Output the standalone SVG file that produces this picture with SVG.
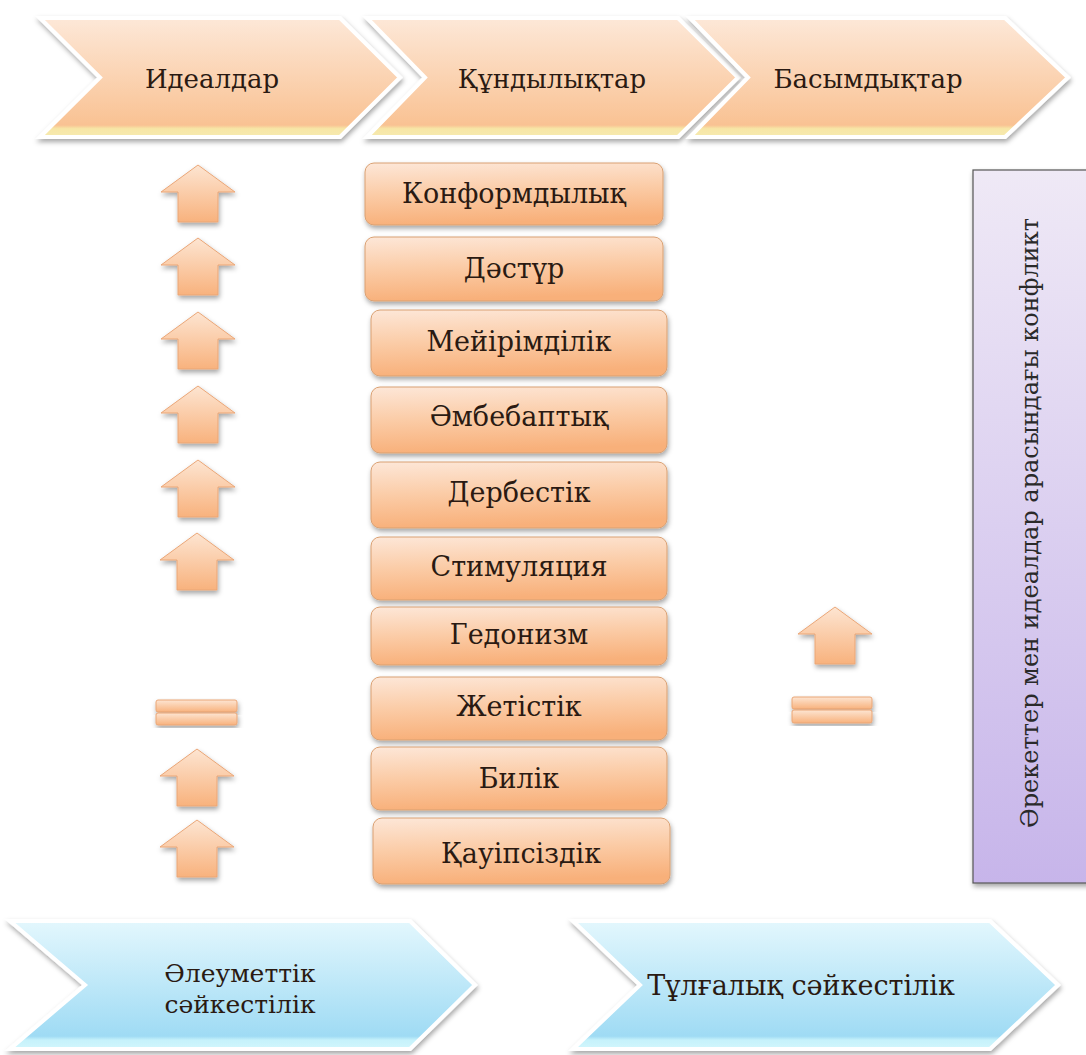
<svg xmlns="http://www.w3.org/2000/svg" xmlns:xlink="http://www.w3.org/1999/xlink" width="1086" height="1055" viewBox="0 0 1086 1055">
<defs>
<linearGradient id="gPeach" x1="0" y1="0" x2="0" y2="1">
<stop offset="0" stop-color="#fde8d8"/>
<stop offset="0.9" stop-color="#f9c293"/>
<stop offset="0.93" stop-color="#f7e6a6"/>
<stop offset="1" stop-color="#f6eab0"/>
</linearGradient>
<linearGradient id="gBlue" x1="0" y1="0" x2="0" y2="1">
<stop offset="0" stop-color="#e3f7fd"/>
<stop offset="0.9" stop-color="#9fdbf4"/>
<stop offset="0.93" stop-color="#c6f2fb"/>
<stop offset="1" stop-color="#d2f6fc"/>
</linearGradient>
<linearGradient id="gBox" x1="0" y1="0" x2="0.15" y2="1">
<stop offset="0" stop-color="#fde7d8"/>
<stop offset="0.5" stop-color="#fbcca7"/>
<stop offset="1" stop-color="#f8b07a"/>
</linearGradient>
<linearGradient id="gArrow" x1="0" y1="0" x2="0" y2="1">
<stop offset="0" stop-color="#fde5d2"/>
<stop offset="1" stop-color="#f8b27d"/>
</linearGradient>
<linearGradient id="gPurple" x1="0" y1="0" x2="0" y2="1">
<stop offset="0" stop-color="#efe9f6"/>
<stop offset="1" stop-color="#c7b5ea"/>
</linearGradient>
<filter id="sh" x="-10%" y="-10%" width="125%" height="130%">
<feDropShadow dx="1" dy="3" stdDeviation="2.5" flood-color="#000" flood-opacity="0.35"/>
</filter>
<path id="up" d="M0,0 L37,27 L20,27 L20,57 L-20,57 L-20,27 L-37,27 Z"/>
</defs>
<style>
.chev{fill:url(#gPeach);stroke:#fff;stroke-width:4;stroke-linejoin:miter;filter:url(#sh)}
.chevb{fill:url(#gBlue);stroke:#fff;stroke-width:4;stroke-linejoin:miter;filter:url(#sh)}
.box{fill:url(#gBox);stroke:#d9a072;stroke-width:1;filter:url(#sh)}
.arr{fill:url(#gArrow);stroke:#eaa677;stroke-width:1;stroke-linejoin:round;filter:url(#sh)}
.eq{fill:url(#gArrow);stroke:#eaa677;stroke-width:1;filter:url(#sh)}
text{font-family:"DejaVu Serif","Liberation Serif",serif;fill:#2a1a12;text-anchor:middle}
.t{font-size:27px}
.th{font-size:26px}
.tb{font-size:25px}
.tv{font-size:24px;fill:#2a2a2a}
</style>
<rect width="1086" height="1055" fill="#fff"/>

<g id="head-ideals">
<polygon class="chev" points="40,18 340,18 400,77.5 340,137 40,137 100,77.5"/>
<text class="th" x="212" y="88">Идеалдар</text>
</g>
<g id="head-values">
<polygon class="chev" points="367,18 678,18 738,77.5 678,137 367,137 425,77.5"/>
<text class="th" x="552" y="88">Құндылықтар</text>
</g>
<g id="head-priorities">
<polygon class="chev" points="690,18 1005,18 1068,77.5 1005,137 690,137 748,77.5"/>
<text class="th" x="868" y="88">Басымдықтар</text>
</g>

<g id="values">
<g id="v1"><rect class="box" x="365" y="163" width="298" height="62" rx="9"/><text class="t" x="514" y="203">Конформдылық</text></g>
<g id="v2"><rect class="box" x="365" y="237" width="298" height="64" rx="9"/><text class="t" x="514" y="278">Дәстүр</text></g>
<g id="v3"><rect class="box" x="371" y="310" width="296" height="66" rx="9"/><text class="t" x="519" y="351">Мейірімділік</text></g>
<g id="v4"><rect class="box" x="371" y="387" width="296" height="66" rx="9"/><text class="t" x="519" y="426">Әмбебаптық</text></g>
<g id="v5"><rect class="box" x="371" y="462" width="296" height="66" rx="9"/><text class="t" x="519" y="502">Дербестік</text></g>
<g id="v6"><rect class="box" x="371" y="537" width="296" height="63" rx="9"/><text class="t" x="519" y="576">Стимуляция</text></g>
<g id="v7"><rect class="box" x="371" y="607" width="296" height="58" rx="9"/><text class="t" x="519" y="644">Гедонизм</text></g>
<g id="v8"><rect class="box" x="371" y="677" width="296" height="63" rx="9"/><text class="t" x="519" y="716">Жетістік</text></g>
<g id="v9"><rect class="box" x="371" y="747" width="296" height="63" rx="9"/><text class="t" x="519" y="788">Билік</text></g>
<g id="v10"><rect class="box" x="373" y="818" width="297" height="66" rx="9"/><text class="t" x="521" y="863">Қауіпсіздік</text></g>
</g>

<g id="ideal-marks">
<use class="arr" href="#up" x="198" y="165"/>
<use class="arr" href="#up" x="198" y="238"/>
<use class="arr" href="#up" x="198" y="312"/>
<use class="arr" href="#up" x="198" y="386"/>
<use class="arr" href="#up" x="198" y="460"/>
<use class="arr" href="#up" x="197" y="533"/>
<rect class="eq" x="156" y="700" width="81" height="12" rx="2"/>
<rect class="eq" x="156" y="713" width="81" height="12" rx="2"/>
<use class="arr" href="#up" x="197" y="749"/>
<use class="arr" href="#up" x="197" y="820"/>
</g>

<g id="priority-marks">
<use class="arr" href="#up" x="835" y="607"/>
<rect class="eq" x="792" y="697" width="80" height="12" rx="2"/>
<rect class="eq" x="792" y="710" width="80" height="13" rx="2"/>
</g>

<g id="conflict">
<rect x="973" y="170" width="120" height="713" fill="url(#gPurple)" stroke="#555" stroke-width="1.2" filter="url(#sh)"/>
<text class="tv" transform="translate(1038,523) rotate(-90)">Әрекеттер мен идеалдар арасындағы конфликт</text>
</g>

<g id="social">
<polygon class="chevb" points="10,921 410,921 475,985 410,1049 10,1049 85,985"/>
<text class="tb" x="240" y="982">Әлеуметтік</text>
<text class="tb" x="240" y="1013">сәйкестілік</text>
</g>
<g id="personal">
<polygon class="chevb" points="573,921 990,921 1058,985 990,1049 573,1049 640,985"/>
<text class="t" x="801" y="995">Тұлғалық сәйкестілік</text>
</g>

<g id="connectors"></g>
</svg>
